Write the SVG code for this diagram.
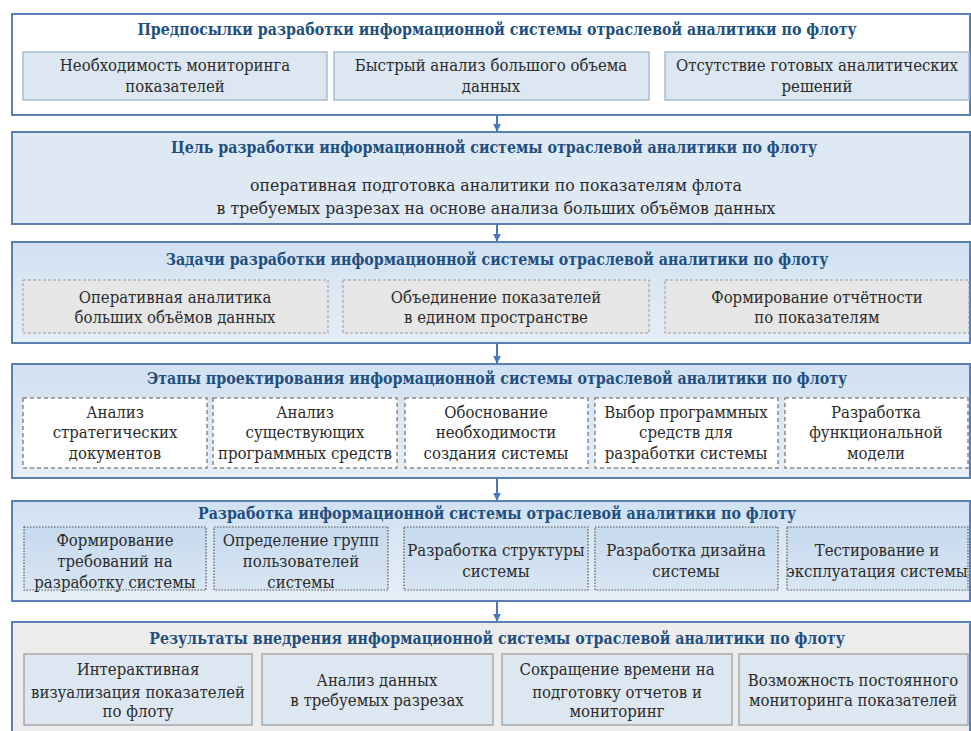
<svg xmlns="http://www.w3.org/2000/svg" width="971" height="731" viewBox="0 0 971 731">
<defs>
<linearGradient id="gBlue" x1="0" y1="0" x2="0" y2="1"><stop offset="0" stop-color="#d1e1f1"/><stop offset="1" stop-color="#e6eef7"/></linearGradient>
<linearGradient id="gBox5" x1="0" y1="0" x2="0" y2="1"><stop offset="0" stop-color="#c6daee"/><stop offset="1" stop-color="#d8e5f3"/></linearGradient>
<marker id="ah" viewBox="0 0 10 10" refX="9" refY="5" markerWidth="4" markerHeight="4" orient="auto"><path d="M0,0 L10,5 L0,10 z" fill="#4a78bd"/></marker>
</defs>
<style>
text{font-family:'DejaVu Serif Condensed','DejaVu Serif',serif}
.sec{stroke:#5a7fb3;stroke-width:2}
.ttl{font-weight:bold;font-size:15.8px;fill:#1f4f7f;text-anchor:middle}
.t{font-size:16.6px;fill:#2b2b2b;text-anchor:middle}
.tb{font-size:17.5px;fill:#2b2b2b;text-anchor:middle}
.b1{fill:#dce7f2;stroke:#a9bdd3;stroke-width:1.5}
.b3{fill:#e6e6e6;stroke:#9a9a9a;stroke-width:1;stroke-dasharray:3 2}
.b4{fill:#ffffff;stroke:#8a8a8a;stroke-width:1.5;stroke-dasharray:4 3}
.b5{fill:url(#gBox5);stroke:#555;stroke-width:1.2;stroke-dasharray:1.5 1.5}
.b6{fill:#dde7f1;stroke:#a8a8a8;stroke-width:1.5}
.c{stroke:#4a78bd;stroke-width:2;fill:none}
</style>
<rect width="971" height="731" fill="#ffffff"/>

<g id="sec1">
<rect class="sec" x="12" y="14" width="958" height="101" fill="#ffffff"/>
<text class="ttl" x="497" y="35">Предпосылки разработки информационной системы отраслевой аналитики по флоту</text>
<g id="s1b1"><rect class="b1" x="23" y="52" width="304" height="48"/><text class="t" x="175" y="71">Необходимость мониторинга</text><text class="t" x="175" y="92">показателей</text></g>
<g id="s1b2"><rect class="b1" x="334" y="52" width="315" height="48"/><text class="t" x="491" y="71">Быстрый анализ большого объема</text><text class="t" x="491" y="92">данных</text></g>
<g id="s1b3"><rect class="b1" x="665" y="52" width="304" height="48"/><text class="t" x="817" y="71">Отсутствие готовых  аналитических</text><text class="t" x="817" y="92">решений</text></g>
</g>

<g id="sec2">
<rect class="sec" x="12" y="132" width="958" height="92" fill="#dfe9f4"/>
<text class="ttl" x="494" y="153">Цель разработки информационной системы отраслевой аналитики по флоту</text>
<text class="tb" x="496" y="191">оперативная подготовка аналитики по показателям флота</text>
<text class="tb" x="496" y="214">в требуемых разрезах на основе анализа больших объёмов данных</text>
</g>

<g id="sec3">
<rect class="sec" x="12" y="242" width="958" height="101" fill="url(#gBlue)"/>
<text class="ttl" x="497" y="265">Задачи разработки информационной системы отраслевой аналитики по флоту</text>
<g id="s3b1"><rect class="b3" x="23" y="280" width="305" height="53"/><text class="t" x="175" y="303">Оперативная аналитика</text><text class="t" x="175" y="323">больших объёмов данных</text></g>
<g id="s3b2"><rect class="b3" x="343" y="280" width="306" height="53"/><text class="t" x="496" y="303">Объединение показателей</text><text class="t" x="496" y="323">в едином пространстве</text></g>
<g id="s3b3"><rect class="b3" x="665" y="280" width="304" height="53"/><text class="t" x="817" y="303">Формирование отчётности</text><text class="t" x="817" y="323">по показателям</text></g>
</g>

<g id="sec4">
<rect class="sec" x="12" y="364" width="958" height="114" fill="url(#gBlue)"/>
<text class="ttl" x="497" y="384">Этапы проектирования информационной системы отраслевой аналитики по флоту</text>
<g id="s4b1"><rect class="b4" x="23" y="398" width="184" height="70"/><text class="t" x="115" y="418">Анализ</text><text class="t" x="115" y="438">стратегических</text><text class="t" x="115" y="459">документов</text></g>
<g id="s4b2"><rect class="b4" x="213" y="398" width="184" height="70"/><text class="t" x="305" y="418">Анализ</text><text class="t" x="305" y="438">существующих</text><text class="t" x="305" y="459">программных средств</text></g>
<g id="s4b3"><rect class="b4" x="405" y="398" width="183" height="70"/><text class="t" x="496" y="418">Обоснование</text><text class="t" x="496" y="438">необходимости</text><text class="t" x="496" y="459">создания системы</text></g>
<g id="s4b4"><rect class="b4" x="595" y="398" width="183" height="70"/><text class="t" x="686" y="418">Выбор программных</text><text class="t" x="686" y="438">средств для</text><text class="t" x="686" y="459">разработки системы</text></g>
<g id="s4b5"><rect class="b4" x="785" y="398" width="183" height="70"/><text class="t" x="876" y="418">Разработка</text><text class="t" x="876" y="438">функциональной</text><text class="t" x="876" y="459">модели</text></g>
</g>

<g id="sec5">
<rect class="sec" x="12" y="501" width="958" height="100" fill="url(#gBlue)"/>
<text class="ttl" x="497" y="519">Разработка информационной системы отраслевой аналитики по флоту</text>
<g id="s5b1"><rect class="b5" x="24" y="527" width="182" height="63"/><text class="t" x="115" y="546">Формирование</text><text class="t" x="115" y="567">требований на</text><text class="t" x="115" y="588">разработку системы</text></g>
<g id="s5b2"><rect class="b5" x="214" y="527" width="174" height="63"/><text class="t" x="301" y="546">Определение групп</text><text class="t" x="301" y="567">пользователей</text><text class="t" x="301" y="588">системы</text></g>
<g id="s5b3"><rect class="b5" x="404" y="527" width="184" height="63"/><text class="t" x="496" y="556">Разработка структуры</text><text class="t" x="496" y="577">системы</text></g>
<g id="s5b4"><rect class="b5" x="595" y="527" width="183" height="63"/><text class="t" x="686" y="556">Разработка дизайна</text><text class="t" x="686" y="577">системы</text></g>
<g id="s5b5"><rect class="b5" x="787" y="527" width="181" height="63"/><text class="t" x="877" y="556">Тестирование и</text><text class="t" x="877" y="577">эксплуатация системы</text></g>
</g>

<g id="sec6">
<rect class="sec" x="12" y="622" width="958" height="120" fill="#ececec"/>
<text class="ttl" x="497" y="644">Результаты внедрения информационной системы отраслевой аналитики по флоту</text>
<g id="s6b1"><rect class="b6" x="24" y="654" width="228" height="71"/><text class="t" x="138" y="675">Интерактивная</text><text class="t" x="138" y="698">визуализация показателей</text><text class="t" x="138" y="717">по флоту</text></g>
<g id="s6b2"><rect class="b6" x="262" y="654" width="231" height="71"/><text class="t" x="377" y="686">Анализ данных</text><text class="t" x="377" y="706">в требуемых разрезах</text></g>
<g id="s6b3"><rect class="b6" x="502" y="654" width="230" height="71"/><text class="t" x="617" y="675">Сокращение времени на</text><text class="t" x="617" y="698">подготовку отчетов и</text><text class="t" x="617" y="717">мониторинг</text></g>
<g id="s6b4"><rect class="b6" x="739" y="654" width="229" height="71"/><text class="t" x="853" y="686">Возможность постоянного</text><text class="t" x="853" y="706">мониторинга показателей</text></g>
</g>

<g id="connectors">
<line class="c" x1="497" y1="115" x2="497" y2="131" marker-end="url(#ah)"/>
<line class="c" x1="497" y1="224" x2="497" y2="241" marker-end="url(#ah)"/>
<line class="c" x1="497" y1="343" x2="497" y2="363" marker-end="url(#ah)"/>
<line class="c" x1="497" y1="478" x2="497" y2="500" marker-end="url(#ah)"/>
<line class="c" x1="497" y1="601" x2="497" y2="621" marker-end="url(#ah)"/>
</g>
</svg>
